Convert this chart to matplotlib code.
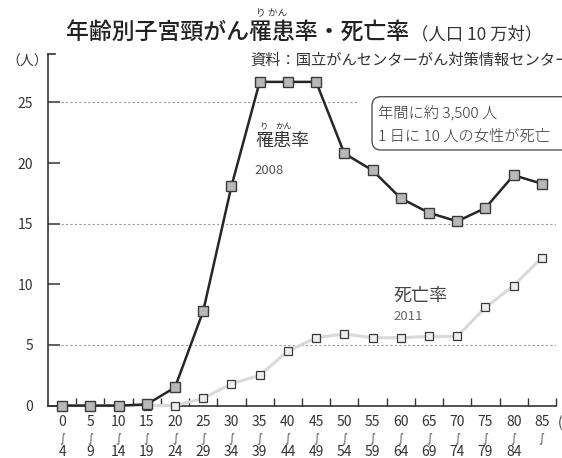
import matplotlib
matplotlib.use("Agg")
from matplotlib import pyplot as plt
import matplotlib.patches as mpatches
import matplotlib.transforms as mtransforms

plt.rcParams["font.family"] = ["Noto Sans CJK JP", "DejaVu Sans"]

# age groups (start / end of each 5-year band)
age_start = [0, 5, 10, 15, 20, 25, 30, 35, 40, 45, 50, 55, 60, 65, 70, 75, 80, 85]
age_end = ["4", "9", "14", "19", "24", "29", "34", "39", "44", "49", "54", "59",
           "64", "69", "74", "79", "84", ""]

# per 100,000 women
incidence_2008 = [0.0, 0.0, 0.0, 0.1, 1.5, 7.8, 18.1, 26.7, 26.7, 26.7,
                  20.8, 19.4, 17.1, 15.9, 15.2, 16.3, 19.0, 18.3]
mortality_2011 = [0.0, 0.0, 0.0, 0.0, 0.0, 0.6, 1.8, 2.5, 4.5, 5.6,
                  5.9, 5.6, 5.6, 5.7, 5.7, 8.1, 9.9, 12.2]

yticks = [0, 5, 10, 15, 20, 25]
grid_full = [5, 15]
grid_short = [25]

W, H = 562, 458
fig = plt.figure(figsize=(W / 100, H / 100), dpi=100)
ax = fig.add_axes([48 / W, (H - 405.6) / H, 508 / W, 351.6 / H])

x = list(range(len(age_start)))

ax.plot(x, mortality_2011, color="#d9d9d9", lw=2.2, marker="s", ms=5.2,
        mfc="#ededed", mec="#3a3a3a", mew=0.9, clip_on=False, zorder=3)
ax.plot(x, incidence_2008, color="#262626", lw=1.8, marker="s", ms=7,
        mfc="#b8b8b8", mec="#3a3a3a", mew=1.0, clip_on=False, zorder=4)

ax.hlines(grid_full, -0.04, 17.5, colors="#9a9a9a", lw=0.8, linestyles=(0, (2, 2)), zorder=1)
ax.hlines(grid_short, -0.04, 10.45, colors="#9a9a9a", lw=0.8, linestyles=(0, (2, 2)), zorder=1)

ax.set_xlim(-0.5, 17.5)
ax.set_ylim(0, 29)

for s in ["top", "right"]:
    ax.spines[s].set_visible(False)
for s in ["left", "bottom"]:
    ax.spines[s].set_color("#333333")
    ax.spines[s].set_linewidth(1.2)

# y ticks: crossing the axis (inside longer than outside)
ax.set_yticks(yticks)
ax.set_yticklabels([str(v) for v in yticks])
ax.set_yticks(yticks[1:], minor=True)
ax.tick_params(axis="y", which="major", direction="in", length=8.6, width=1.1,
               color="#333333", labelsize=10, labelcolor="#333333", pad=10.5)
ax.tick_params(axis="y", which="minor", direction="out", length=5.6, width=1.1,
               color="#333333")

# x ticks between the bands, labels drawn by hand
ax.set_xticks([i + 0.5 for i in x])
ax.set_xticklabels([])
ax.tick_params(axis="x", which="major", direction="in", length=5.8, width=1.0,
               color="#333333")

# top stub of the y axis
ax.plot([0, 7 / 508], [1, 1], transform=ax.transAxes, clip_on=False,
        color="#333333", lw=1.2)

trans = ax.get_xaxis_transform()
for i in x:
    ax.text(i, -0.0466, str(age_start[i]), transform=trans, ha="center", va="center",
            fontsize=10, color="#333333")
    ax.text(i, -0.0907, "∫", transform=trans, ha="center", va="center",
            fontsize=8.5, color="#555555", family=["DejaVu Sans"])
    if age_end[i]:
        ax.text(i, -0.132, age_end[i], transform=trans, ha="center", va="center",
                fontsize=10, color="#333333")
ax.text(17.57, -0.0466, "(歳)", transform=trans, ha="left", va="center",
        fontsize=10, color="#333333")

# series labels
ax.text(6.83, 21.8, "罹患率", ha="left", va="center", fontsize=13, color="#333333")
ax.text(7.14, 23.05, "り", ha="center", va="center", fontsize=6, color="#333333")
ax.text(7.84, 23.05, "かん", ha="center", va="center", fontsize=6, color="#333333")
ax.text(6.83, 19.43, "2008", ha="left", va="center", fontsize=9.5, color="#555555")
ax.text(11.73, 9.07, "死亡率", ha="left", va="center", fontsize=13, color="#444444")
ax.text(11.73, 7.33, "2011", ha="left", va="center", fontsize=9.5, color="#666666")

# title
title_kw = dict(fontsize=16.5, weight="medium", color="#222222", va="center")
title = fig.text(66 / W, 1 - 32 / H, "年齢別子宮頸がん罹患率・死亡率", **title_kw)
fig.canvas.draw()
r = fig.canvas.get_renderer()
tmp = fig.text(66 / W, 1 - 32 / H, "年齢別子宮頸がん", **title_kw)
pre = tmp.get_window_extent(r)
tmp.set_text("年齢別子宮頸がん罹患")
pre2 = tmp.get_window_extent(r)
tmp.remove()
furi_x = (pre.x1 + pre2.x1) / 2
fig.text(furi_x / W, 1 - 12 / H, "り かん", ha="center", va="center",
         fontsize=7, color="#333333")
tb = title.get_window_extent(r)
fig.text((tb.x1 + 2) / W, 1 - 34 / H, "（人口 10 万対）", ha="left", va="center",
         fontsize=12.5, color="#333333")

fig.text(250 / W, 1 - 60 / H, "資料：国立がんセンターがん対策情報センター",
         ha="left", va="center", fontsize=11, color="#333333")
fig.text(6 / W, 1 - 62 / H, "（人）", ha="left", va="center", fontsize=10,
         color="#333333")

# note box
box = mpatches.FancyBboxPatch((372, H - 150), 210, 53.3,
                              boxstyle="round,pad=0,rounding_size=9",
                              transform=mtransforms.IdentityTransform(),
                              fc="white", ec="#555555", lw=1.0)
fig.patches.append(box)
fig.text(378 / W, 1 - 114 / H, "年間に約 3,500 人", ha="left", va="center",
         fontsize=11, color="#333333", weight="light")
fig.text(378 / W, 1 - 136.7 / H, "1 日に 10 人の女性が死亡", ha="left", va="center",
         fontsize=11, color="#333333", weight="light")

fig.savefig("out.png", dpi=100)
